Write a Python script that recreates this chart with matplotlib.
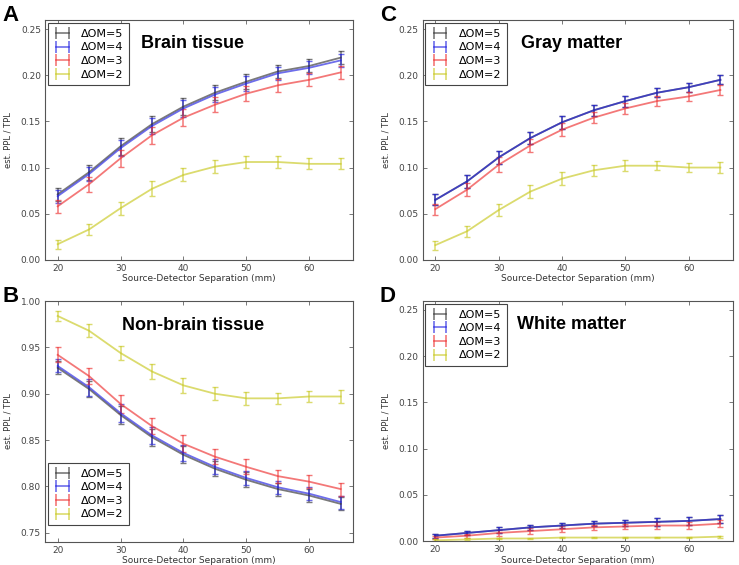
import matplotlib
matplotlib.use("Agg")
import matplotlib.pyplot as plt
from matplotlib.lines import Line2D

sep = [20, 25, 30, 35, 40, 45, 50, 55, 60, 65]
om_labels = ["\u0394OM=5", "\u0394OM=4", "\u0394OM=3", "\u0394OM=2"]
om_colors = ["#333333", "#2020e0", "#ee3030", "#c8c820"]

# A: brain tissue
brain = [
    [0.071, 0.095, 0.123, 0.147, 0.166, 0.181, 0.193, 0.204, 0.210, 0.219],
    [0.069, 0.093, 0.121, 0.145, 0.164, 0.179, 0.191, 0.202, 0.208, 0.216],
    [0.058, 0.082, 0.110, 0.135, 0.154, 0.168, 0.180, 0.189, 0.195, 0.203],
    [0.017, 0.033, 0.056, 0.077, 0.092, 0.101, 0.106, 0.106, 0.104, 0.104],
]
brain_err = [
    [0.007, 0.008, 0.009, 0.009, 0.009, 0.008, 0.008, 0.007, 0.007, 0.007],
    [0.007, 0.008, 0.009, 0.009, 0.009, 0.008, 0.008, 0.007, 0.007, 0.007],
    [0.007, 0.008, 0.009, 0.009, 0.009, 0.008, 0.008, 0.007, 0.007, 0.007],
    [0.005, 0.006, 0.007, 0.008, 0.007, 0.007, 0.007, 0.006, 0.006, 0.006],
]

# B: non-brain tissue
nonbrain = [
    [0.928, 0.905, 0.877, 0.853, 0.834, 0.819, 0.807, 0.797, 0.790, 0.781],
    [0.930, 0.907, 0.879, 0.855, 0.836, 0.821, 0.809, 0.799, 0.792, 0.783],
    [0.942, 0.919, 0.889, 0.865, 0.846, 0.832, 0.821, 0.811, 0.805, 0.797],
    [0.984, 0.968, 0.944, 0.924, 0.909, 0.900, 0.895, 0.895, 0.897, 0.897],
]
nonbrain_err = [
    [0.007, 0.009, 0.010, 0.009, 0.009, 0.008, 0.008, 0.007, 0.007, 0.007],
    [0.007, 0.009, 0.010, 0.009, 0.009, 0.008, 0.008, 0.007, 0.007, 0.007],
    [0.008, 0.009, 0.010, 0.009, 0.009, 0.008, 0.008, 0.007, 0.007, 0.007],
    [0.005, 0.007, 0.008, 0.008, 0.008, 0.007, 0.007, 0.006, 0.006, 0.007],
]

# C: gray matter
gray = [
    [0.065, 0.085, 0.111, 0.132, 0.149, 0.162, 0.172, 0.181, 0.187, 0.195],
    [0.065, 0.085, 0.111, 0.132, 0.149, 0.162, 0.172, 0.181, 0.187, 0.195],
    [0.055, 0.076, 0.103, 0.124, 0.141, 0.154, 0.164, 0.172, 0.177, 0.184],
    [0.016, 0.031, 0.054, 0.074, 0.088, 0.097, 0.102, 0.102, 0.100, 0.100],
]
gray_err = [
    [0.006, 0.007, 0.007, 0.007, 0.007, 0.006, 0.006, 0.005, 0.005, 0.005],
    [0.006, 0.007, 0.007, 0.007, 0.007, 0.006, 0.006, 0.005, 0.005, 0.005],
    [0.006, 0.007, 0.008, 0.007, 0.007, 0.006, 0.006, 0.005, 0.005, 0.005],
    [0.005, 0.006, 0.007, 0.007, 0.007, 0.006, 0.006, 0.005, 0.005, 0.006],
]

# D: white matter
white = [
    [0.006, 0.009, 0.012, 0.015, 0.017, 0.019, 0.020, 0.021, 0.022, 0.024],
    [0.006, 0.009, 0.012, 0.015, 0.017, 0.019, 0.020, 0.021, 0.022, 0.024],
    [0.004, 0.006, 0.009, 0.011, 0.013, 0.015, 0.016, 0.017, 0.017, 0.019],
    [0.001, 0.002, 0.003, 0.003, 0.004, 0.004, 0.004, 0.004, 0.004, 0.005],
]
white_err = [
    [0.002, 0.002, 0.003, 0.003, 0.003, 0.003, 0.003, 0.004, 0.004, 0.004],
    [0.002, 0.002, 0.003, 0.003, 0.003, 0.003, 0.003, 0.004, 0.004, 0.004],
    [0.002, 0.002, 0.003, 0.003, 0.003, 0.003, 0.003, 0.004, 0.004, 0.004],
    [0.001, 0.001, 0.001, 0.001, 0.001, 0.001, 0.001, 0.001, 0.001, 0.001],
]

panels = [
    # letter, title, data, err, rect, ylim, legend anchor
    ("A", "Brain tissue", brain, brain_err, [0.061, 0.540, 0.417, 0.425], (0, 0.26), ("upper left", (0.008, 0.985))),
    ("B", "Non-brain tissue", nonbrain, nonbrain_err, [0.061, 0.041, 0.417, 0.426], (0.74, 1.0), ("lower left", (0.008, 0.07))),
    ("C", "Gray matter", gray, gray_err, [0.572, 0.540, 0.420, 0.425], (0, 0.26), ("upper left", (0.008, 0.985))),
    ("D", "White matter", white, white_err, [0.572, 0.042, 0.420, 0.426], (0, 0.26), ("upper left", (0.008, 0.985))),
]

fig = plt.figure(figsize=(7.39, 5.65), dpi=100)

for letter, title, data, err, rect, ylim, (loc, anchor) in panels:
    ax = fig.add_axes(rect)
    handles = []
    for vals, e, lab, col in zip(data, err, om_labels, om_colors):
        ax.errorbar(sep, vals, yerr=e, color=col, alpha=0.65, lw=1.3,
                    capsize=2, elinewidth=1.1)
        handles.append(Line2D([], [], color=col, alpha=0.65, lw=1.2,
                              marker="|", markersize=8, markeredgewidth=1.2))
    ax.set_xlim(18, 67)
    ax.set_ylim(*ylim)
    ax.set_xticks([20, 30, 40, 50, 60])
    if ylim[0] == 0:
        ax.set_yticks([0, 0.05, 0.10, 0.15, 0.20, 0.25])
    else:
        ax.set_yticks([0.75, 0.80, 0.85, 0.90, 0.95, 1.00])
    ax.yaxis.set_major_formatter(matplotlib.ticker.FormatStrFormatter("%.2f"))
    ax.tick_params(direction="in", top=True, right=True, labelsize=6.5,
                   length=3, width=0.5, colors="#444444", pad=3)
    for s in ax.spines.values():
        s.set_color("#555555")
        s.set_linewidth(0.8)
    ax.set_xlabel("Source-Detector Separation (mm)", fontsize=6.5,
                  color="#333333", labelpad=1)
    ax.set_ylabel("est. PPL / TPL", fontsize=6, color="#333333", labelpad=6)
    ax.text(0.48, 0.9, title, transform=ax.transAxes, ha="center",
            va="center", fontsize=13, fontweight="bold",
            family="Liberation Sans")
    leg = ax.legend(handles, om_labels, loc=loc, bbox_to_anchor=anchor,
                    borderaxespad=0, numpoints=2, fontsize=8, fancybox=False,
                    framealpha=1, edgecolor="#444444", handlelength=1.7,
                    borderpad=0.5, labelspacing=0.32, handletextpad=0.8)
    leg.get_frame().set_linewidth(0.8)
    fig.text(rect[0] - 0.058, rect[1] + rect[3] + 0.008, letter,
             fontsize=16, fontweight="bold", family="Liberation Sans",
             va="center", ha="left")

fig.savefig("out.png", dpi=100)
